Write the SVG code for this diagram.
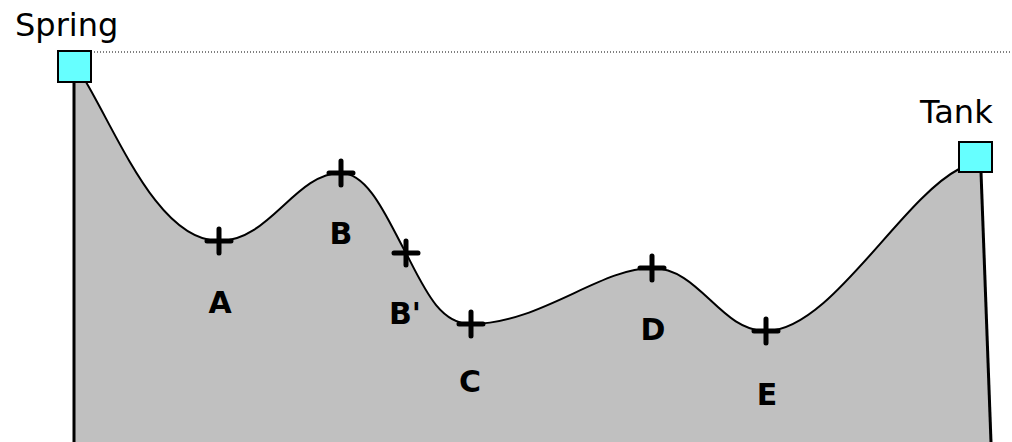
<svg xmlns="http://www.w3.org/2000/svg" width="1012" height="442" viewBox="0 0 1012 442">
<style>
.lbl{font-family:"Comic Sans MS","DejaVu Sans",sans-serif;font-size:30px;font-weight:bold;fill:#000;text-anchor:middle}
.title{font-family:"Comic Sans MS","DejaVu Sans",sans-serif;font-size:32px;fill:#000}
.plus{stroke:#000;stroke-width:5;stroke-linecap:round;fill:none}
.box{fill:#66ffff;stroke:#000;stroke-width:2}
</style>
<rect width="1012" height="442" fill="#fff"/>
<g id="terrain">
<path d="M74,442 L74,82 L86,82 C120,140 160,241 219,241 C270,241 295,173 341,173 C370,173 390,225 406,253 C425,290 440,324 471,324 C540,324 600,268 652,268 C700,268 720,331 766,331 C830,331 900,200 959,169 L981,172 L991,442 Z" fill="#c0c0c0" stroke="none"/>
<path d="M86,82 C120,140 160,241 219,241 C270,241 295,173 341,173 C370,173 390,225 406,253 C425,290 440,324 471,324 C540,324 600,268 652,268 C700,268 720,331 766,331 C830,331 900,200 959,169" fill="none" stroke="#000" stroke-width="2"/>
<line x1="74" y1="82" x2="74" y2="442" stroke="#000" stroke-width="3"/>
<line x1="981" y1="172" x2="991" y2="442" stroke="#000" stroke-width="3"/>
</g>
<g id="connectors">
<line x1="91" y1="52" x2="1012" y2="52" stroke="#000" stroke-width="1" stroke-dasharray="1,2"/>
</g>
<g id="spring">
<rect class="box" x="58" y="51" width="33" height="31"/>
<text class="title" x="15" y="36">Spring</text>
</g>
<g id="tank">
<rect class="box" x="959" y="142" width="33" height="30"/>
<text class="title" x="920" y="123">Tank</text>
</g>
<g id="A"><path class="plus" d="M207,241 H231 M219,229 V253"/><text class="lbl" x="220" y="313">A</text></g>
<g id="B"><path class="plus" d="M329,173 H353 M341,161 V185"/><text class="lbl" x="341" y="244">B</text></g>
<g id="Bp"><path class="plus" d="M394,253 H418 M406,241 V265"/><text class="lbl" x="405" y="324">B'</text></g>
<g id="C"><path class="plus" d="M459,324 H483 M471,312 V336"/><text class="lbl" x="470" y="392">C</text></g>
<g id="D"><path class="plus" d="M640,268 H664 M652,256 V280"/><text class="lbl" x="653" y="340">D</text></g>
<g id="E"><path class="plus" d="M754,331 H778 M766,319 V343"/><text class="lbl" x="767" y="405">E</text></g>
</svg>
